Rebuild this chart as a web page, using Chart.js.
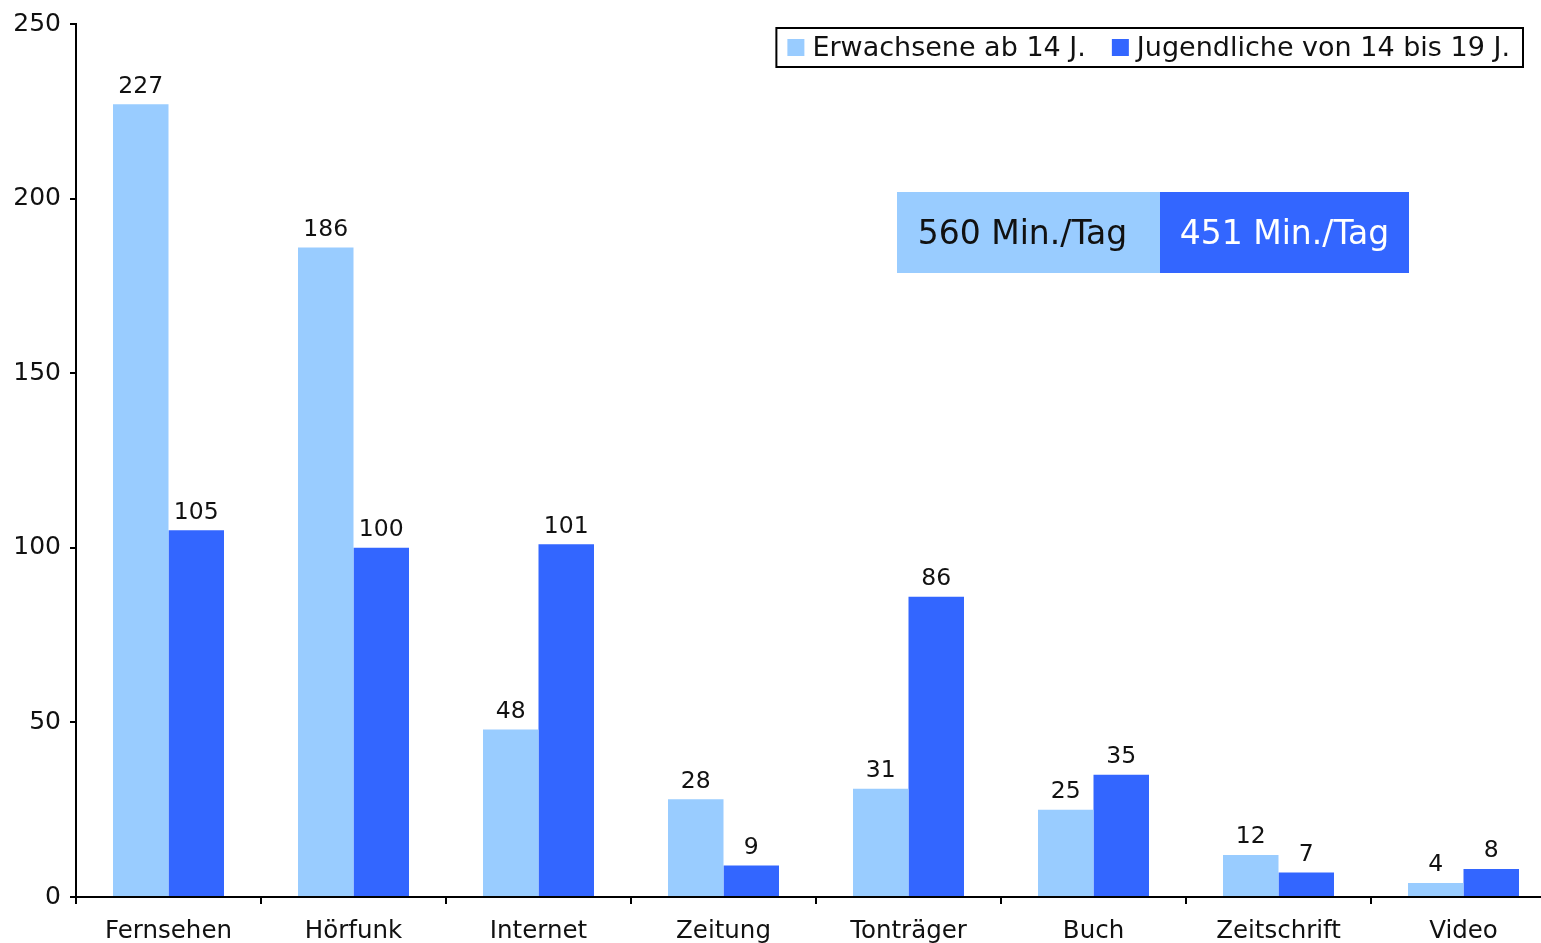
<!DOCTYPE html>
<html>
<head>
<meta charset="utf-8">
<script src="https://cdn.jsdelivr.net/npm/chart.js@4.4.0/dist/chart.umd.min.js"></script>
<style>
  html, body { margin: 0; padding: 0; background: #fff; overflow: hidden; }
</style>
</head>
<body>
<canvas id="media-chart" width="1556" height="943"></canvas>
<script>
// data
const categories = ['Fernsehen', 'Hörfunk', 'Internet', 'Zeitung', 'Tonträger', 'Buch', 'Zeitschrift', 'Video'];
const adults = [227, 186, 48, 28, 31, 25, 12, 4];
const youth = [105, 100, 101, 9, 86, 35, 7, 8];
const seriesNames = ['Erwachsene ab 14 J.', 'Jugendliche von 14 bis 19 J.'];
const totals = ['560 Min./Tag', '451 Min./Tag'];
const yTicks = [0, 50, 100, 150, 200, 250];

const LIGHT = '#99CCFF';
const DARK = '#3366FF';
const FONT = '"DejaVu Sans", Verdana, sans-serif';

// value above every bar
const valueLabels = {
    id: 'valueLabels',
    afterDatasetsDraw(chart) {
        const ctx = chart.ctx;
        ctx.save();
        ctx.font = '23.5px ' + FONT;
        ctx.fillStyle = '#111';
        ctx.textAlign = 'center';
        ctx.textBaseline = 'bottom';
        chart.data.datasets.forEach((ds, i) => {
            chart.getDatasetMeta(i).data.forEach((bar, j) => {
                ctx.fillText(ds.data[j], bar.x, bar.y - 6);
            });
        });
        ctx.restore();
    }
};

// framed legend in the top right corner
const boxLegend = {
    id: 'boxLegend',
    afterDraw(chart) {
        const ctx = chart.ctx;
        ctx.save();
        ctx.font = '27px ' + FONT;
        const sq = 17, gapSq = 8, gapItem = 26, padL = 11, padR = 13;
        const widths = chart.data.datasets.map(ds => ctx.measureText(ds.label).width);
        let total = padL + padR + widths.reduce((a, w) => a + sq + gapSq + w, 0) + gapItem * (widths.length - 1);
        const right = 1523, top = 28, h = 39;
        const left = right - total;
        ctx.lineWidth = 2;
        ctx.strokeStyle = '#000';
        ctx.fillStyle = '#fff';
        ctx.fillRect(left, top, total, h);
        ctx.strokeRect(left, top, total, h);
        let x = left + padL;
        const cy = top + h / 2;
        ctx.textBaseline = 'middle';
        chart.data.datasets.forEach((ds, i) => {
            ctx.fillStyle = ds.backgroundColor;
            ctx.fillRect(x, cy - sq / 2, sq, sq);
            x += sq + gapSq;
            ctx.fillStyle = '#111';
            ctx.fillText(ds.label, x, cy + 1);
            x += widths[i] + gapItem;
        });
        ctx.restore();
    }
};

// total minutes box
const totalsBox = {
    id: 'totalsBox',
    afterDraw(chart) {
        const ctx = chart.ctx;
        ctx.save();
        ctx.font = '33px ' + FONT;
        ctx.textAlign = 'center';
        ctx.textBaseline = 'middle';
        const boxes = [[897, 1160, LIGHT, '#111'], [1160, 1409, DARK, '#fff']];
        boxes.forEach((b, i) => {
            ctx.fillStyle = b[2];
            ctx.fillRect(b[0], 192, b[1] - b[0], 81);
            ctx.fillStyle = b[3];
            ctx.fillText(totals[i], (b[0] + b[1]) / 2 - (i === 0 ? 6 : 0), 235);
        });
        ctx.restore();
    }
};

const chartElem = document.getElementById('media-chart').getContext('2d');
const mediaChart = new Chart(chartElem, {
    type: 'bar',
    data: {
        labels: categories,
        datasets: [{
            label: seriesNames[0],
            data: adults,
            backgroundColor: LIGHT
        },
        {
            label: seriesNames[1],
            data: youth,
            backgroundColor: DARK
        }]
    },
    options: {
        responsive: false,
        animation: false,
        devicePixelRatio: 1,
        layout: { padding: { top: 22, right: 0, left: 0, bottom: 0 } },
        datasets: {
            bar: { categoryPercentage: 0.6, barPercentage: 1.0 }
        },
        plugins: {
            legend: { display: false },
            tooltip: { enabled: false }
        },
        scales: {
            x: {
                grid: { offset: true, drawOnChartArea: false, tickLength: 7, color: '#000', lineWidth: 2 },
                border: { display: true, color: '#000', width: 2 },
                ticks: { color: '#111', font: { family: FONT, size: 24.5 }, padding: 13, maxRotation: 0 },
                afterFit(scale) { scale.height = 46; }
            },
            y: {
                min: 0,
                max: 250,
                afterBuildTicks(scale) { scale.ticks = yTicks.map(v => ({ value: v })); },
                grid: { drawOnChartArea: false, tickLength: 6, color: '#000', lineWidth: 2 },
                border: { display: true, color: '#000', width: 2 },
                ticks: { color: '#111', font: { family: FONT, size: 25 }, padding: 9 },
                afterFit(scale) { scale.width = 76; }
            }
        }
    },
    plugins: [valueLabels, totalsBox, boxLegend]
});
</script>
</body>
</html>
